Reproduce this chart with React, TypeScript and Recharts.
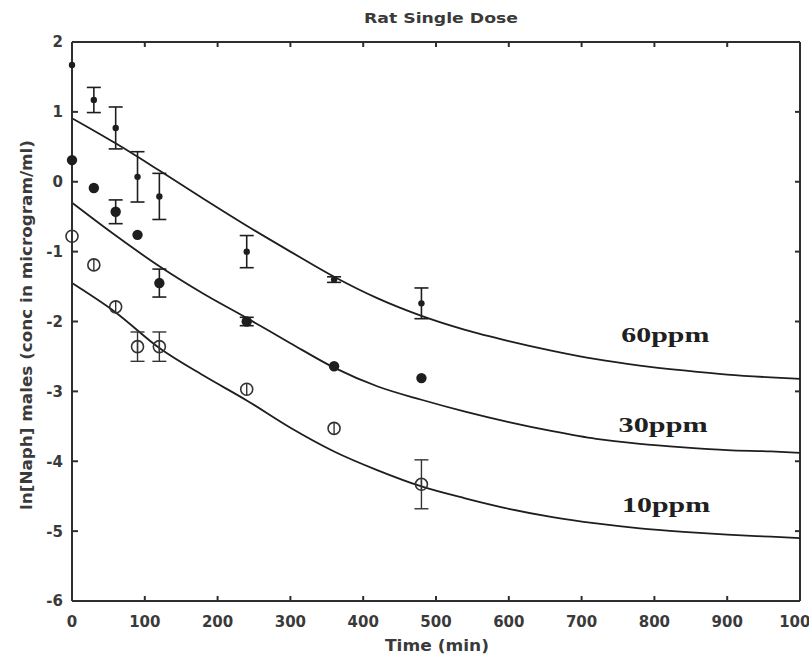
import React from 'react';
import { ComposedChart, Line, Scatter, XAxis, YAxis, ErrorBar, ReferenceDot, ReferenceLine } from 'recharts';

// Observed data (time in min, ln concentration)
const obsTimes = [0, 30, 60, 90, 120, 240, 360, 480];
const obs60 = [1.67, 1.17, 0.77, 0.07, -0.21, -1.0, -1.4, -1.74];
const err60 = [0, 0.18, 0.3, 0.36, 0.33, 0.23, 0.04, 0.22];
const obs30 = [0.31, -0.09, -0.43, -0.76, -1.45, -2.0, -2.64, -2.81];
const err30 = [0, 0, 0.17, 0, 0.2, 0.06, 0, 0];
const obs10 = [-0.78, -1.19, -1.79, -2.36, -2.36, -2.97, -3.53, -4.33];
const err10 = [0, 0, 0, 0.21, 0.21, 0, 0, 0.35];

// Model curves
const modelTimes = [0, 60, 120, 180, 240, 300, 360, 420, 480, 540, 600, 660, 720, 780, 840, 900, 960, 1000];
const model60 = [0.91, 0.55, 0.16, -0.24, -0.63, -1.0, -1.36, -1.67, -1.92, -2.12, -2.28, -2.42, -2.54, -2.63, -2.7, -2.76, -2.8, -2.82];
const model30 = [-0.3, -0.77, -1.21, -1.6, -1.95, -2.31, -2.66, -2.93, -3.12, -3.29, -3.44, -3.57, -3.68, -3.75, -3.8, -3.84, -3.86, -3.88];
const model10 = [-1.45, -1.87, -2.38, -2.77, -3.13, -3.52, -3.86, -4.13, -4.36, -4.53, -4.68, -4.8, -4.89, -4.96, -5.01, -5.05, -5.08, -5.1];

const xTicks = [0, 100, 200, 300, 400, 500, 600, 700, 800, 900, 1000];
const yTicks = [-6, -5, -4, -3, -2, -1, 0, 1, 2];

const seriesLabels = [
  { text: '60ppm', t: 815, v: -2.29, len: 88 },
  { text: '30ppm', t: 812, v: -3.58, len: 89 },
  { text: '10ppm', t: 816, v: -4.73, len: 88 },
];

const obsTable = (vals: number[], errs: number[]) =>
  obsTimes.map((t, i) => ({ t, v: vals[i], err: errs[i] > 0 ? errs[i] : undefined }));
const modelTable = (vals: number[]) => modelTimes.map((t, i) => ({ t, v: vals[i] }));

const W = 809;
const H = 657;
const MARGIN = { top: 42, right: 9, bottom: 0, left: 0 };
const X_AXIS_H = 56;
const Y_AXIS_W = 72;
const PLOT_W = W - MARGIN.left - MARGIN.right - Y_AXIS_W;
const PLOT_H = H - MARGIN.top - MARGIN.bottom - X_AXIS_H;

const AX = '#2e2e2e';
const INK = '#1e1e1e';
const tickFont: React.CSSProperties = {
  fontFamily: '"DejaVu Sans", sans-serif',
  fontWeight: 700,
  fontSize: 15,
  fill: '#3a3a3a',
};

const XTick = (props: any) => {
  const { x, y, payload } = props;
  const inner = payload.value !== 0 && payload.value !== 1000;
  return (
    <g>
      <line x1={x} x2={x} y1={y} y2={y - 5} stroke={AX} strokeWidth={2} />
      {inner && <line x1={x} x2={x} y1={y - PLOT_H} y2={y - PLOT_H + 5} stroke={AX} strokeWidth={2} />}
      <text x={x} y={y + 26} textAnchor="middle" style={tickFont}>
        {payload.value}
      </text>
    </g>
  );
};

const YTick = (props: any) => {
  const { x, y, payload } = props;
  const inner = payload.value !== -6 && payload.value !== 2;
  return (
    <g>
      <line x1={x} x2={x + 6} y1={y} y2={y} stroke={AX} strokeWidth={2} />
      {inner && <line x1={x + PLOT_W} x2={x + PLOT_W - 5} y1={y} y2={y} stroke={AX} strokeWidth={2} />}
      <text x={x - 9} y={y} dy="0.36em" textAnchor="end" style={tickFont}>
        {payload.value}
      </text>
    </g>
  );
};

const PpmLabel = (props: any) => {
  const { viewBox, text, len } = props;
  const cx = viewBox.x + (viewBox.width || 0) / 2;
  const cy = viewBox.y + (viewBox.height || 0) / 2;
  return (
    <text
      x={cx}
      y={cy}
      textAnchor="middle"
      textLength={len}
      lengthAdjust="spacingAndGlyphs"
      style={{ fontFamily: '"Liberation Serif", "Times New Roman", serif', fontWeight: 700, fontSize: 21, fill: '#202020' }}
    >
      {text}
    </text>
  );
};

const TitleLabel = (props: any) => {
  const { viewBox } = props;
  const cx = viewBox.x + (viewBox.width || 0) / 2;
  const cy = viewBox.y + (viewBox.height || 0) / 2;
  return (
    <text
      x={cx + 5}
      y={cy - 19}
      textAnchor="middle"
      textLength={154}
      lengthAdjust="spacingAndGlyphs"
      style={{ ...tickFont, fontSize: 14 }}
    >
      Rat Single Dose
    </text>
  );
};

const TimeLabel = (props: any) => {
  const { viewBox } = props;
  const cx = viewBox.x + viewBox.width / 2;
  return (
    <text
      x={cx + 1}
      y={viewBox.y + 50}
      textAnchor="middle"
      textLength={104}
      lengthAdjust="spacingAndGlyphs"
      style={{ ...tickFont, fontSize: 15 }}
    >
      Time (min)
    </text>
  );
};

const YLabel = () => (
  <text
    x={0}
    y={0}
    transform="translate(32,325) rotate(-90)"
    textAnchor="middle"
    textLength={370}
    lengthAdjust="spacingAndGlyphs"
    style={{ ...tickFont, fontSize: 15 }}
  >
    ln[Naph] males (conc in microgram/ml)
  </text>
);

const SmallDot = (props: any) => {
  const { cx, cy } = props;
  return <circle cx={cx} cy={cy} r={3.2} fill={INK} />;
};

const BigDot = (props: any) => {
  const { cx, cy } = props;
  return <circle cx={cx} cy={cy} r={5.2} fill={INK} />;
};

const OpenDot = (props: any) => {
  const { cx, cy } = props;
  return (
    <g>
      <circle cx={cx} cy={cy} r={6} fill="none" stroke="#333" strokeWidth={1.6} />
      <line x1={cx} x2={cx} y1={cy - 6} y2={cy + 6} stroke="#333" strokeWidth={1.4} />
    </g>
  );
};

export default function App() {
  return (
    <div style={{ position: 'absolute', left: 0, top: 0, width: W, height: H, background: '#fff' }}>
      <ComposedChart width={W} height={H} margin={MARGIN}>
        <XAxis
          dataKey="t"
          type="number"
          domain={[0, 1000]}
          ticks={xTicks}
          height={X_AXIS_H}
          tickSize={0}
          tickMargin={0}
          tick={<XTick />}
          axisLine={{ stroke: AX, strokeWidth: 2 }}
          tickLine={false}
          interval={0}
          label={<TimeLabel />}
        />
        <YAxis
          type="number"
          domain={[-6, 2]}
          ticks={yTicks}
          width={Y_AXIS_W}
          tickSize={0}
          tickMargin={0}
          tick={<YTick />}
          axisLine={{ stroke: AX, strokeWidth: 2 }}
          tickLine={false}
          interval={0}
          label={<YLabel />}
        />
        <ReferenceLine y={2} stroke={AX} strokeWidth={2} />
        <ReferenceLine x={1000} stroke={AX} strokeWidth={2} />
        <Line data={modelTable(model60)} dataKey="v" type="monotone" stroke={INK} strokeWidth={1.8} dot={false} isAnimationActive={false} />
        <Line data={modelTable(model30)} dataKey="v" type="monotone" stroke={INK} strokeWidth={1.8} dot={false} isAnimationActive={false} />
        <Line data={modelTable(model10)} dataKey="v" type="monotone" stroke={INK} strokeWidth={1.8} dot={false} isAnimationActive={false} />
        <Scatter data={obsTable(obs60, err60)} dataKey="v" shape={<SmallDot />} isAnimationActive={false}>
          <ErrorBar dataKey="err" direction="y" width={7} stroke={INK} strokeWidth={1.6} />
        </Scatter>
        <Scatter data={obsTable(obs30, err30)} dataKey="v" shape={<BigDot />} isAnimationActive={false}>
          <ErrorBar dataKey="err" direction="y" width={7} stroke={INK} strokeWidth={1.6} />
        </Scatter>
        <Scatter data={obsTable(obs10, err10)} dataKey="v" shape={<OpenDot />} isAnimationActive={false}>
          <ErrorBar dataKey="err" direction="y" width={7} stroke="#333" strokeWidth={1.4} />
        </Scatter>
        <ReferenceDot x={500} y={2} r={1} fill="none" stroke="none" label={<TitleLabel />} />
        {seriesLabels.map((s) => (
          <ReferenceDot
            key={s.text}
            x={s.t}
            y={s.v}
            r={1}
            fill="none"
            stroke="none"
            label={<PpmLabel text={s.text} len={s.len} />}
          />
        ))}
      </ComposedChart>
    </div>
  );
}
